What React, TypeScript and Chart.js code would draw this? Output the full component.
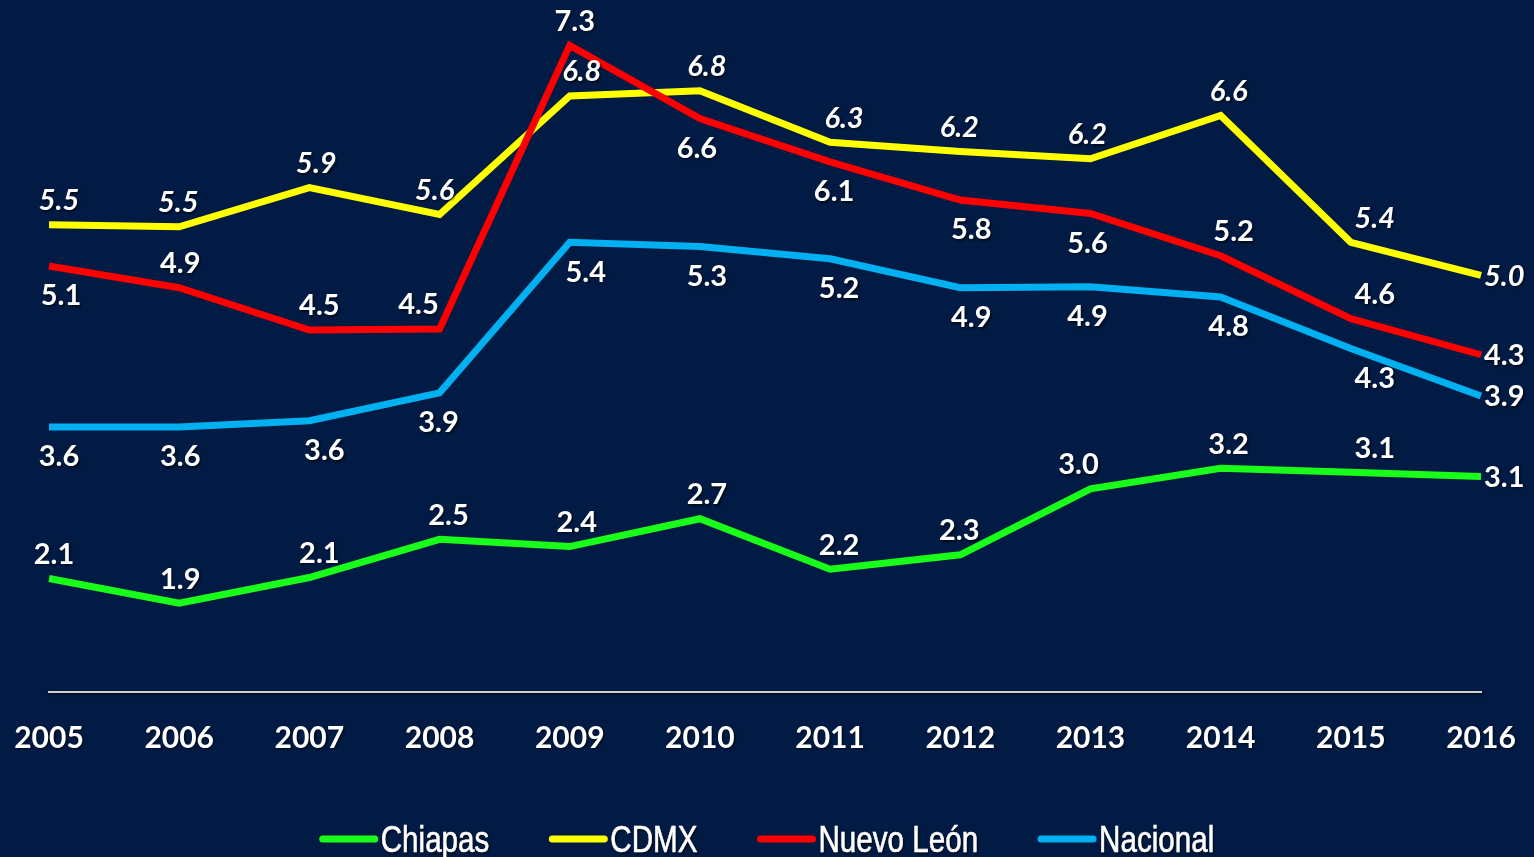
import React, { useEffect, useRef } from "react";
import { Chart, registerables } from "chart.js";

Chart.register(...registerables);

// ---- Data ----
const YEARS = ["2005", "2006", "2007", "2008", "2009", "2010", "2011", "2012", "2013", "2014", "2015", "2016"];
const CHIAPAS = [2.1, 1.86, 2.11, 2.48, 2.41, 2.68, 2.19, 2.33, 2.97, 3.17, 3.13, 3.09];
const CDMX = [5.53, 5.51, 5.89, 5.63, 6.78, 6.83, 6.33, 6.24, 6.17, 6.59, 5.36, 5.04];
const NUEVO_LEON = [5.13, 4.92, 4.51, 4.52, 7.27, 6.56, 6.14, 5.77, 5.64, 5.23, 4.62, 4.27];
const NACIONAL = [3.57, 3.57, 3.63, 3.9, 5.36, 5.32, 5.2, 4.92, 4.93, 4.83, 4.33, 3.87];
const SERIES_NAMES = ["Chiapas", "CDMX", "Nuevo León", "Nacional"];

// ---- Styling ----
const BG = "#011b44";
const COLORS = ["#1aff1a", "#ffff00", "#ff0000", "#00b0f0"];
const ITALIC_LABELS = [false, true, false, false];
// label placement: a = above, b = below, r = right
const LABEL_POS = [
  ["a", "a", "a", "a", "a", "a", "a", "a", "a", "a", "a", "r"],
  ["a", "a", "a", "a", "a", "a", "a", "a", "a", "a", "a", "r"],
  ["b", "a", "a", "a", "a", "b", "b", "b", "b", "a", "a", "r"],
  ["b", "b", "b", "b", "b", "b", "b", "b", "b", "b", "b", "r"],
];
const LABEL_DX = [
  [5, 1, 10, 9, 7, 7, 9, -1, -12, 8, 24, 0],
  [10, -1, 7, -5, 12, 7, 14, -1, -3, 8, 24, 0],
  [12, 1, 10, -21, 5, -3, 4, 11, -3, 13, 24, 0],
  [10, 1, 15, -1, 16, 7, 9, 11, -3, 8, 24, 0],
];

const shadowOn = (ctx: CanvasRenderingContext2D) => {
  ctx.shadowColor = "rgba(0,0,0,0.6)";
  ctx.shadowOffsetX = 1.5;
  ctx.shadowOffsetY = 1.5;
  ctx.shadowBlur = 2;
};

const shadowPlugin = {
  id: "tickShadow",
  beforeDraw(chart: any) {
    chart.ctx.save();
    shadowOn(chart.ctx);
  },
  beforeDatasetsDraw(chart: any) {
    chart.ctx.restore();
  },
};

const labelPlugin = {
  id: "valueLabels",
  afterDatasetsDraw(chart: any) {
    const ctx: CanvasRenderingContext2D = chart.ctx;
    ctx.save();
    shadowOn(ctx);
    ctx.fillStyle = "#ffffff";
    chart.data.datasets.forEach((ds: any, i: number) => {
      const meta = chart.getDatasetMeta(i);
      ctx.font = `${ITALIC_LABELS[i] ? "italic " : ""}bold 29px Lato, "Open Sans", sans-serif`;
      meta.data.forEach((pt: any, j: number) => {
        const text = Number(ds.data[j]).toFixed(1);
        const pos = LABEL_POS[i][j];
        const dx = LABEL_DX[i][j];
        ctx.textBaseline = "middle";
        if (pos === "r") {
          ctx.textAlign = "left";
          ctx.fillText(text, pt.x + 3 + dx, pt.y + 1);
        } else if (pos === "a") {
          ctx.textAlign = "center";
          ctx.fillText(text, pt.x + dx, pt.y - 24);
        } else {
          ctx.textAlign = "center";
          ctx.fillText(text, pt.x + dx, pt.y + 30);
        }
      });
    });
    ctx.restore();
  },
};

const legendPlugin = {
  id: "bottomLegend",
  afterDraw(chart: any) {
    const ctx: CanvasRenderingContext2D = chart.ctx;
    ctx.save();
    const narrow = 0.8;
    ctx.font = `37px "Liberation Sans", Arial, sans-serif`;
    const swatch = 58;
    const gapText = 3;
    const gapItem = 60;
    const widths = SERIES_NAMES.map((n) => swatch + gapText + ctx.measureText(n).width * narrow);
    const total = widths.reduce((a, b) => a + b, 0) + gapItem * (SERIES_NAMES.length - 1);
    let x = chart.width / 2 - total / 2;
    const baseline = 852;
    const lineY = 839;
    SERIES_NAMES.forEach((name, i) => {
      ctx.strokeStyle = COLORS[i];
      ctx.lineWidth = 7;
      ctx.lineCap = "round";
      ctx.beginPath();
      ctx.moveTo(x + 3, lineY);
      ctx.lineTo(x + swatch - 3, lineY);
      ctx.stroke();
      ctx.save();
      shadowOn(ctx);
      ctx.fillStyle = "#ffffff";
      ctx.strokeStyle = "#ffffff";
      ctx.lineWidth = 0.6;
      ctx.textAlign = "left";
      ctx.textBaseline = "alphabetic";
      ctx.translate(x + swatch + gapText, baseline);
      ctx.scale(narrow, 1);
      ctx.fillText(name, 0, 0);
      ctx.shadowColor = "transparent";
      ctx.strokeText(name, 0, 0);
      ctx.restore();
      x += widths[i] + gapItem;
    });
    ctx.restore();
  },
};

export default function App() {
  const canvasRef = useRef<HTMLCanvasElement | null>(null);

  useEffect(() => {
    if (!canvasRef.current) return;
    const seriesData = [CHIAPAS, CDMX, NUEVO_LEON, NACIONAL];
    const chart = new Chart(canvasRef.current, {
      type: "line",
      data: {
        labels: YEARS,
        datasets: seriesData.map((d, i) => ({
          label: SERIES_NAMES[i],
          data: d,
          borderColor: COLORS[i],
          backgroundColor: COLORS[i],
          borderWidth: 7,
          pointRadius: 0,
          pointHoverRadius: 0,
          tension: 0,
          fill: false,
          order: i === 2 ? -1 : 0,
        })),
      },
      options: {
        animation: false,
        responsive: false,
        devicePixelRatio: 1,
        layout: { padding: { left: 49, right: 53, top: 1, bottom: 73 } },
        plugins: {
          legend: { display: false },
          tooltip: { enabled: false },
        },
        scales: {
          x: {
            type: "category",
            offset: false,
            grid: { display: false, drawTicks: false },
            border: { display: true, color: "#d0d0d0", width: 2 },
            ticks: {
              color: "#ffffff",
              font: { family: "Lato, 'Open Sans', sans-serif", weight: "bold", size: 30 },
              padding: 28,
              maxRotation: 0,
              autoSkip: false,
            },
            afterFit(scale: any) {
              scale.paddingLeft = 0;
              scale.paddingRight = 0;
            },
          },
          y: { display: false, min: 1, max: 7.7 },
        },
      },
      plugins: [shadowPlugin, labelPlugin, legendPlugin],
    } as any);
    return () => chart.destroy();
  }, []);

  return (
    <div style={{ position: "fixed", left: 0, top: 0, width: 1534, height: 857, background: BG }}>
      <canvas ref={canvasRef} width={1534} height={857} style={{ display: "block" }} />
    </div>
  );
}
